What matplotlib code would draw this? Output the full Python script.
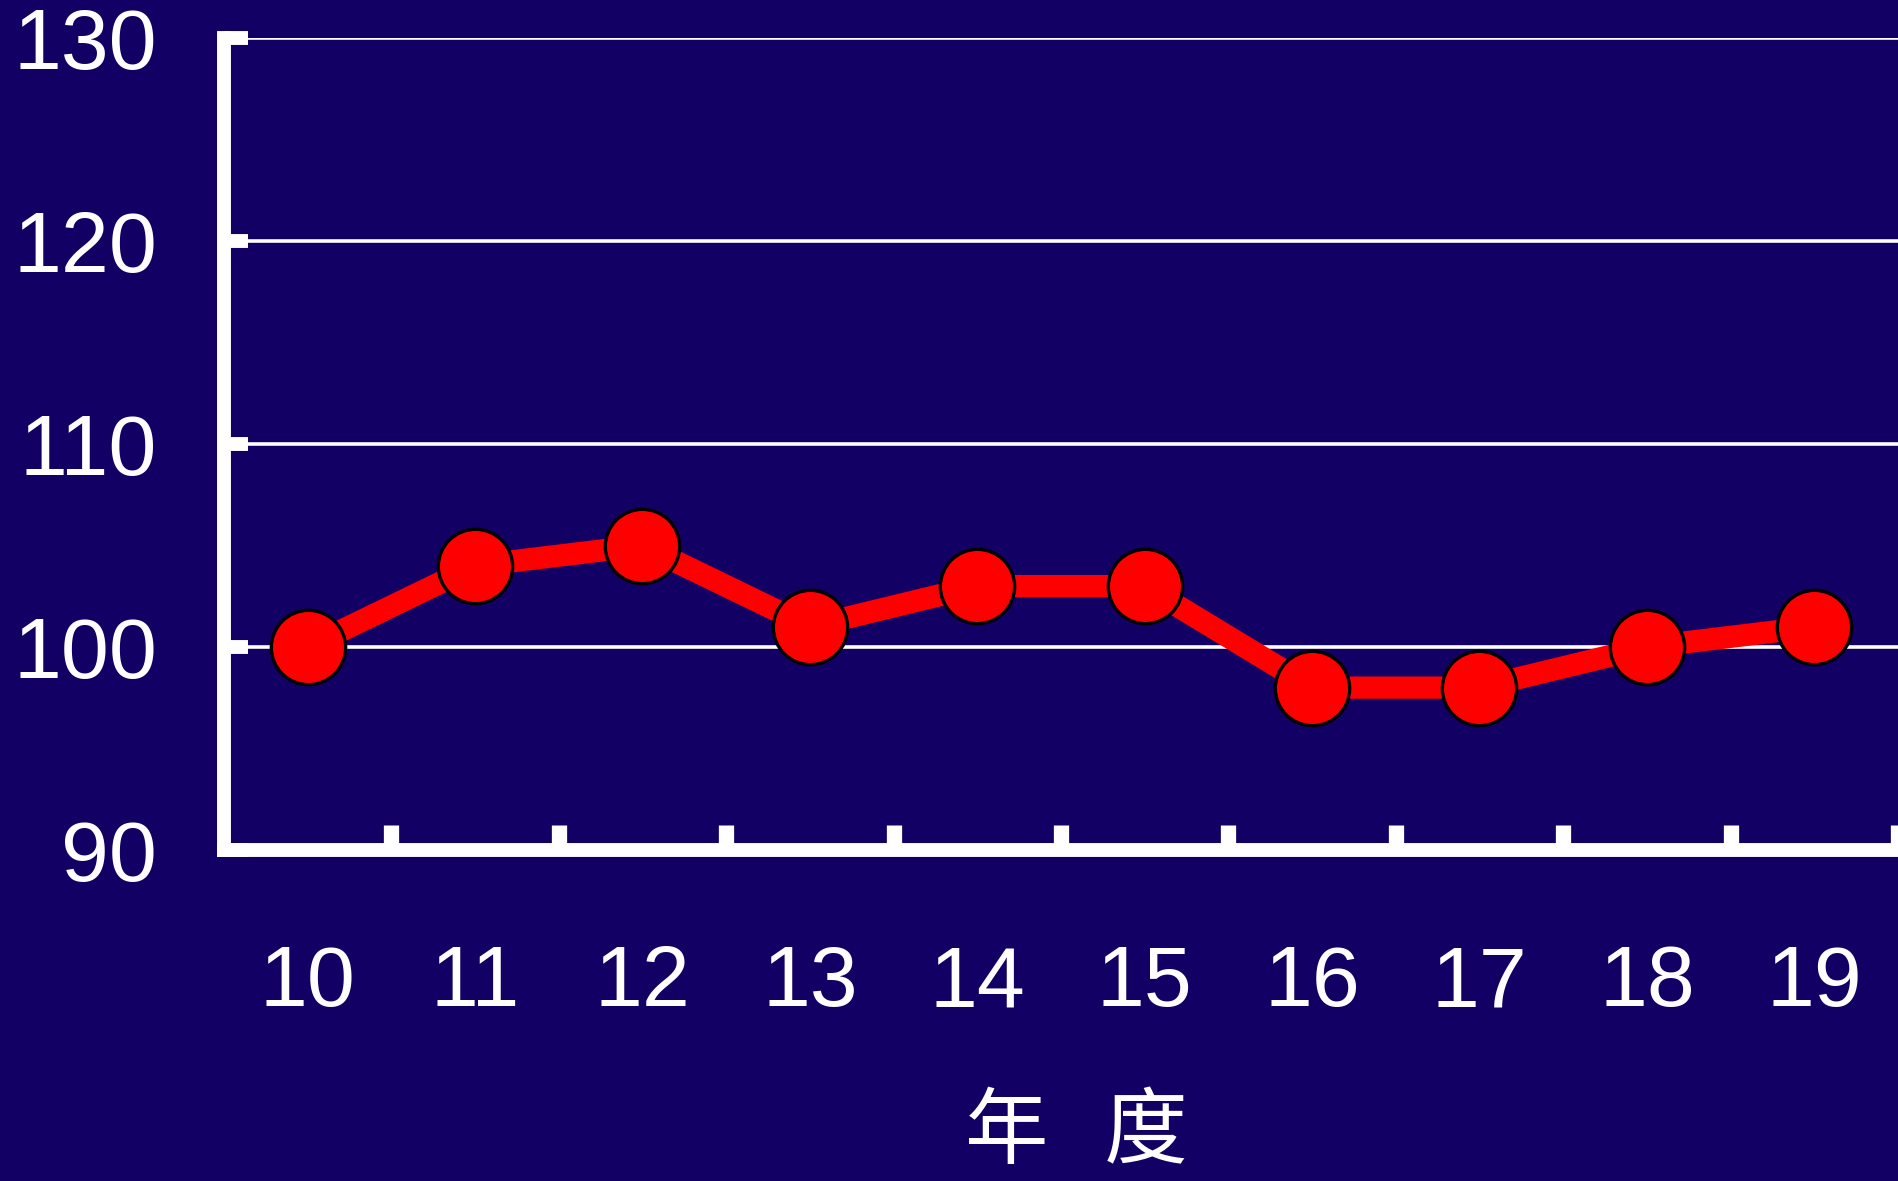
import matplotlib
matplotlib.use("Agg")
import matplotlib.pyplot as plt
import numpy as np

# Data
years = ["10", "11", "12", "13", "14", "15", "16", "17", "18", "19"]
values = [100, 104, 105, 101, 103, 103, 98, 98, 100, 101]
y_ticks = [90, 100, 110, 120, 130]
x_label = "年   度"

BG = "#120064"
W, H = 1899, 1181
DPI = 100

fig = plt.figure(figsize=(W / DPI, H / DPI), dpi=DPI, facecolor=BG)
ax = fig.add_axes([224 / W, 1 - 850 / H, (1898 - 224) / W, (850 - 38) / H])
ax.set_facecolor(BG)

x = np.arange(len(years))

# grid lines
for yv in y_ticks[1:]:
    ax.axhline(yv, color="white", lw=2.6, zorder=1)

ax.plot(x, values, color="#ff0000", lw=16, zorder=3, solid_capstyle="butt")
ax.plot(x, values, linestyle="none", marker="o", ms=53.5, mfc="#ff0000",
        mec="black", mew=2.4, zorder=4, clip_on=False)

ax.set_xlim(-0.5, len(years) - 0.5)
ax.set_ylim(90, 130)

for s in ["top", "right"]:
    ax.spines[s].set_visible(False)
for s in ["left", "bottom"]:
    ax.spines[s].set_color("white")
    ax.spines[s].set_linewidth(10)
    ax.spines[s].set_zorder(5)

ax.set_yticks(y_ticks)
ax.set_yticklabels([str(v) for v in y_ticks])
ax.tick_params(axis="y", direction="in", length=17, width=10, color="white",
               labelcolor="white", labelsize=62, pad=48)

ax.set_xticks(x)
ax.set_xticklabels(years)
ax.set_xticks(np.arange(len(years)) + 0.5, minor=True)
ax.tick_params(axis="x", which="major", length=0, labelcolor="white",
               labelsize=62, pad=68)
ax.tick_params(axis="x", which="minor", direction="in", length=18, width=11,
               color="white")

for lab in ax.get_xticklabels() + ax.get_yticklabels():
    lab.set_family(["Liberation Sans", "DejaVu Sans"])

ax.set_xlabel(x_label, color="white", fontsize=60, fontweight="medium",
              family=["Noto Sans CJK SC", "DejaVu Sans"])
ax.xaxis.label.set_va("baseline")
ax.xaxis.set_label_coords(0.509, -(1157 - 850) / (850 - 38))

fig.savefig("out.png", dpi=DPI, facecolor=BG)
